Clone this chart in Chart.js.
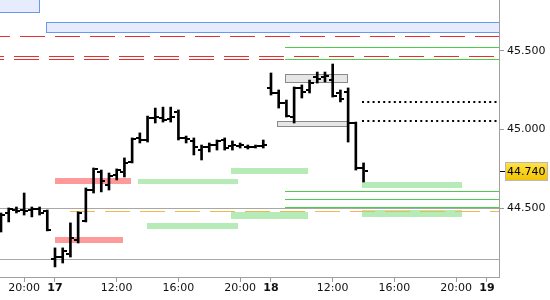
<!DOCTYPE html>
<html>
<head>
<meta charset="utf-8">
<script src="https://cdn.jsdelivr.net/npm/chart.js@4.4.0/dist/chart.umd.min.js"></script>
<style>
  body { margin: 0; background: #fff; }
  #wrap { width: 550px; height: 300px; }
</style>
</head>
<body>
<div id="wrap"><canvas id="chart" width="550" height="300"></canvas></div>
<script>
// 30 min bars, slot 0 = first bar of day 17 (08:00), day 16 bars are slots -7..-1
const firstSlot = -7
const opens = [
  44.413, 44.470, 44.489, 44.489, 44.489, 44.495, 44.483,
  44.178, 44.190, 44.210, 44.298, 44.419, 44.616, 44.731, 44.648, 44.712, 44.731,
  44.794, 44.947, 44.934, 45.074, 45.074, 45.067, 45.112, 44.947, 44.928, 44.870,
  44.890, 44.902, 44.934, 44.896, 44.896, 44.890, 44.890, 44.896,
  45.265, 45.233, 45.169, 45.080, 45.265, 45.252, 45.334, 45.334, 45.315, 45.233,
  45.239, 45.042, 44.756
]
const highs = [
  44.470, 44.502, 44.508, 44.597, 44.508, 44.508, 44.489,
  44.248, 44.248, 44.407, 44.477, 44.629, 44.756, 44.743, 44.724, 44.750, 44.820,
  44.947, 44.979, 45.086, 45.137, 45.143, 45.143, 45.125, 44.959, 44.947, 44.902,
  44.915, 44.934, 44.947, 44.928, 44.915, 44.902, 44.902, 44.934,
  45.360, 45.252, 45.188, 45.271, 45.284, 45.315, 45.366, 45.366, 45.417, 45.252,
  45.265, 45.048, 44.788
]
const lows = [
  44.349, 44.413, 44.470, 44.457, 44.445, 44.457, 44.356,
  44.127, 44.152, 44.190, 44.279, 44.413, 44.597, 44.604, 44.616, 44.680, 44.699,
  44.788, 44.915, 44.921, 45.042, 45.048, 45.048, 44.934, 44.915, 44.839, 44.807,
  44.858, 44.870, 44.870, 44.870, 44.883, 44.877, 44.883, 44.883,
  45.220, 45.137, 45.080, 45.042, 45.201, 45.233, 45.296, 45.303, 45.207, 45.176,
  44.921, 44.743, 44.667
]
const closes = [
  44.457, 44.495, 44.483, 44.483, 44.495, 44.470, 44.362,
  44.190, 44.229, 44.311, 44.470, 44.616, 44.750, 44.674, 44.705, 44.743, 44.788,
  44.940, 44.934, 45.074, 45.080, 45.061, 45.080, 44.947, 44.940, 44.890, 44.890,
  44.902, 44.928, 44.883, 44.902, 44.902, 44.890, 44.896, 44.902,
  45.233, 45.169, 45.086, 45.265, 45.239, 45.296, 45.322, 45.341, 45.214, 45.195,
  45.042, 44.756, 44.740
]
const lastPrice = 44.740

// x axis ticks (slot -> label)
const tickSlots = [-4, 0, 8, 16, 24, 28, 36, 44, 52, 56]
const tickLabels = ['20:00', '17', '12:00', '16:00', '20:00', '18', '12:00', '16:00', '20:00', '19']
const dayLabels = ['17', '18', '19']
const priceTicks = [44.5, 45.0, 45.5]

// levels and zones: [fromSlot, toSlot, lowPrice, highPrice]
const blueZones = [[-8, -1.95, 45.746, 45.95], [-1.17, 58, 45.619, 45.682]]
const grayBoxes = [[29.8, 37.95, 45.301, 45.354], [28.8, 37.95, 45.021, 45.057]]
const redZones = [[0, 9.8, 44.655, 44.693], [0, 8.8, 44.279, 44.317]]
const greenZones = [
  [10.8, 23.7, 44.654, 44.684], [11.9, 23.7, 44.366, 44.405],
  [22.8, 32.8, 44.718, 44.756], [22.8, 32.8, 44.430, 44.475],
  [39.8, 52.7, 44.631, 44.667], [39.8, 52.7, 44.447, 44.489]
]
const redDashLevels = [45.595, 45.465, 45.451]
const greenLevels = [45.524, 45.449, 44.608, 44.561, 44.510]
const greenFrom = 29.8
const dottedLevels = [45.178, 45.057]
const dottedFrom = 39.8
const orangeLevel = 44.481
const orangeFrom = 1.94
const grayLevels = [44.5, 44.178]

const FONT = 'DejaVu Sans'

const levelsPlugin = {
  id: 'levels',
  beforeDatasetsDraw(chart) {
    const {ctx, chartArea: a, scales: {x, y}} = chart
    const px = v => x.getPixelForValue(v)
    const py = v => y.getPixelForValue(v)
    ctx.save()
    ctx.beginPath()
    ctx.rect(a.left, a.top, a.right - a.left, a.bottom - a.top)
    ctx.clip()

    function zone(z, fill, stroke) {
      let x1 = Math.round(px(z[0])), x2 = Math.round(px(z[1]))
      let y1 = Math.round(py(z[3])), y2 = Math.round(py(z[2]))
      ctx.fillStyle = fill
      ctx.fillRect(x1, y1, x2 - x1, y2 - y1)
      if (stroke) {
        ctx.strokeStyle = stroke
        ctx.lineWidth = 1
        ctx.strokeRect(x1 + 0.5, y1 + 0.5, x2 - x1 - 1, y2 - y1)
      }
    }
    function hline(v, from, color, dash, offset, width) {
      let yy = Math.round(py(v)) + (width % 2 ? 0.5 : 0)
      ctx.strokeStyle = color
      ctx.lineWidth = width
      ctx.setLineDash(dash)
      ctx.lineDashOffset = offset
      ctx.beginPath()
      ctx.moveTo(Math.round(px(from)), yy)
      ctx.lineTo(a.right, yy)
      ctx.stroke()
      ctx.setLineDash([])
    }

    grayLevels.forEach(v => hline(v, x.min, '#a8a8a8', [], 0, 1))
    blueZones.forEach(z => zone(z, '#e6ecfd', '#6a98ee'))
    redZones.forEach(z => zone(z, '#ff9a9a'))
    greenZones.forEach(z => zone(z, '#b6eab6'))
    grayBoxes.forEach(z => zone(z, 'rgba(220,220,220,0.7)', '#8a8a8a'))

    hline(redDashLevels[0], x.min, '#e53030', [25, 10], 15, 1)
    hline(redDashLevels[1], x.min, '#e53030', [25, 10], 21, 1)
    hline(redDashLevels[2], x.min, '#e53030', [25, 10], 21, 1)
    greenLevels.forEach(v => hline(v, greenFrom, '#4ccc4c', [], 0, 1))
    dottedLevels.forEach(v => hline(v, dottedFrom, '#000', [2, 3.3], 0, 2))
    hline(orangeLevel, orangeFrom, '#f4b848', [25, 10], 0, 1)
    ctx.restore()
  },
  afterDatasetsDraw(chart) {
    // open / close ticks of the OHLC bars
    const {ctx, scales: {y}} = chart
    const meta = chart.getDatasetMeta(0)
    ctx.save()
    ctx.fillStyle = '#000'
    meta.data.forEach((el, k) => {
      let xx = Math.round(el.x)
      ctx.fillRect(xx - 4, Math.round(y.getPixelForValue(opens[k])) - 1, 3, 2)
      ctx.fillRect(xx + 1, Math.round(y.getPixelForValue(closes[k])) - 1, 3, 2)
    })
    ctx.restore()
  },
  afterDraw(chart) {
    // last price label on the right axis
    const {ctx, chartArea: a, scales: {y}} = chart
    let yy = Math.round(y.getPixelForValue(lastPrice))
    ctx.save()
    ctx.fillStyle = '#000'
    ctx.fillRect(a.right + 1, yy, 5, 1)
    let bx = a.right + 6, by = yy - 9, bw = 43, bh = 19
    let g = ctx.createLinearGradient(0, by, 0, by + bh)
    g.addColorStop(0, '#ffe24a')
    g.addColorStop(1, '#f2c200')
    ctx.fillStyle = g
    ctx.fillRect(bx, by, bw, bh)
    ctx.strokeStyle = '#b8b8b8'
    ctx.lineWidth = 1
    ctx.strokeRect(bx + 0.5, by + 0.5, bw - 1, bh - 1)
    ctx.fillStyle = '#000'
    ctx.font = '11px "' + FONT + '"'
    ctx.textBaseline = 'middle'
    ctx.fillText(lastPrice.toFixed(3), bx + 2, yy + 1)
    ctx.restore()
  }
}

const ctx = document.getElementById('chart').getContext('2d')
const grafico = new Chart(ctx, {
  type: 'bar',
  data: {
    datasets: [{
      data: highs.map((h, k) => ({x: firstSlot + k, y: [lows[k], h]})),
      backgroundColor: '#000',
      barThickness: 2,
      borderWidth: 0
    }]
  },
  options: {
    responsive: false,
    animation: false,
    layout: {padding: 0},
    plugins: {legend: {display: false}, tooltip: {enabled: false}},
    scales: {
      x: {
        type: 'linear',
        min: -7.13,
        max: 57.56,
        offset: false,
        afterBuildTicks: axis => { axis.ticks = tickSlots.map(v => ({value: v})) },
        afterFit: axis => { axis.height = 23; axis.paddingLeft = 0; axis.paddingRight = 0 },
        grid: {offset: false, drawOnChartArea: false, tickLength: 5, color: '#9a9a9a'},
        border: {color: '#a0a0a0'},
        ticks: {
          padding: 0,
          maxRotation: 0,
          autoSkip: false,
          color: '#111',
          callback: (v) => tickLabels[tickSlots.indexOf(v)],
          font: (c) => {
            let lbl = c.tick ? tickLabels[tickSlots.indexOf(c.tick.value)] : ''
            return {family: FONT, size: 11, weight: dayLabels.includes(lbl) ? 'bold' : 'normal'}
          }
        }
      },
      y: {
        position: 'right',
        min: 44.063,
        max: 45.824,
        afterBuildTicks: axis => { axis.ticks = priceTicks.map(v => ({value: v})) },
        afterFit: axis => { axis.width = 51; axis.paddingTop = 0; axis.paddingBottom = 0 },
        grid: {drawOnChartArea: false, tickLength: 5, color: '#9a9a9a'},
        border: {color: '#a0a0a0'},
        ticks: {
          padding: 3,
          color: '#111',
          font: {family: FONT, size: 11},
          callback: v => v.toFixed(3)
        }
      }
    }
  },
  plugins: [levelsPlugin]
})
</script>
</body>
</html>
